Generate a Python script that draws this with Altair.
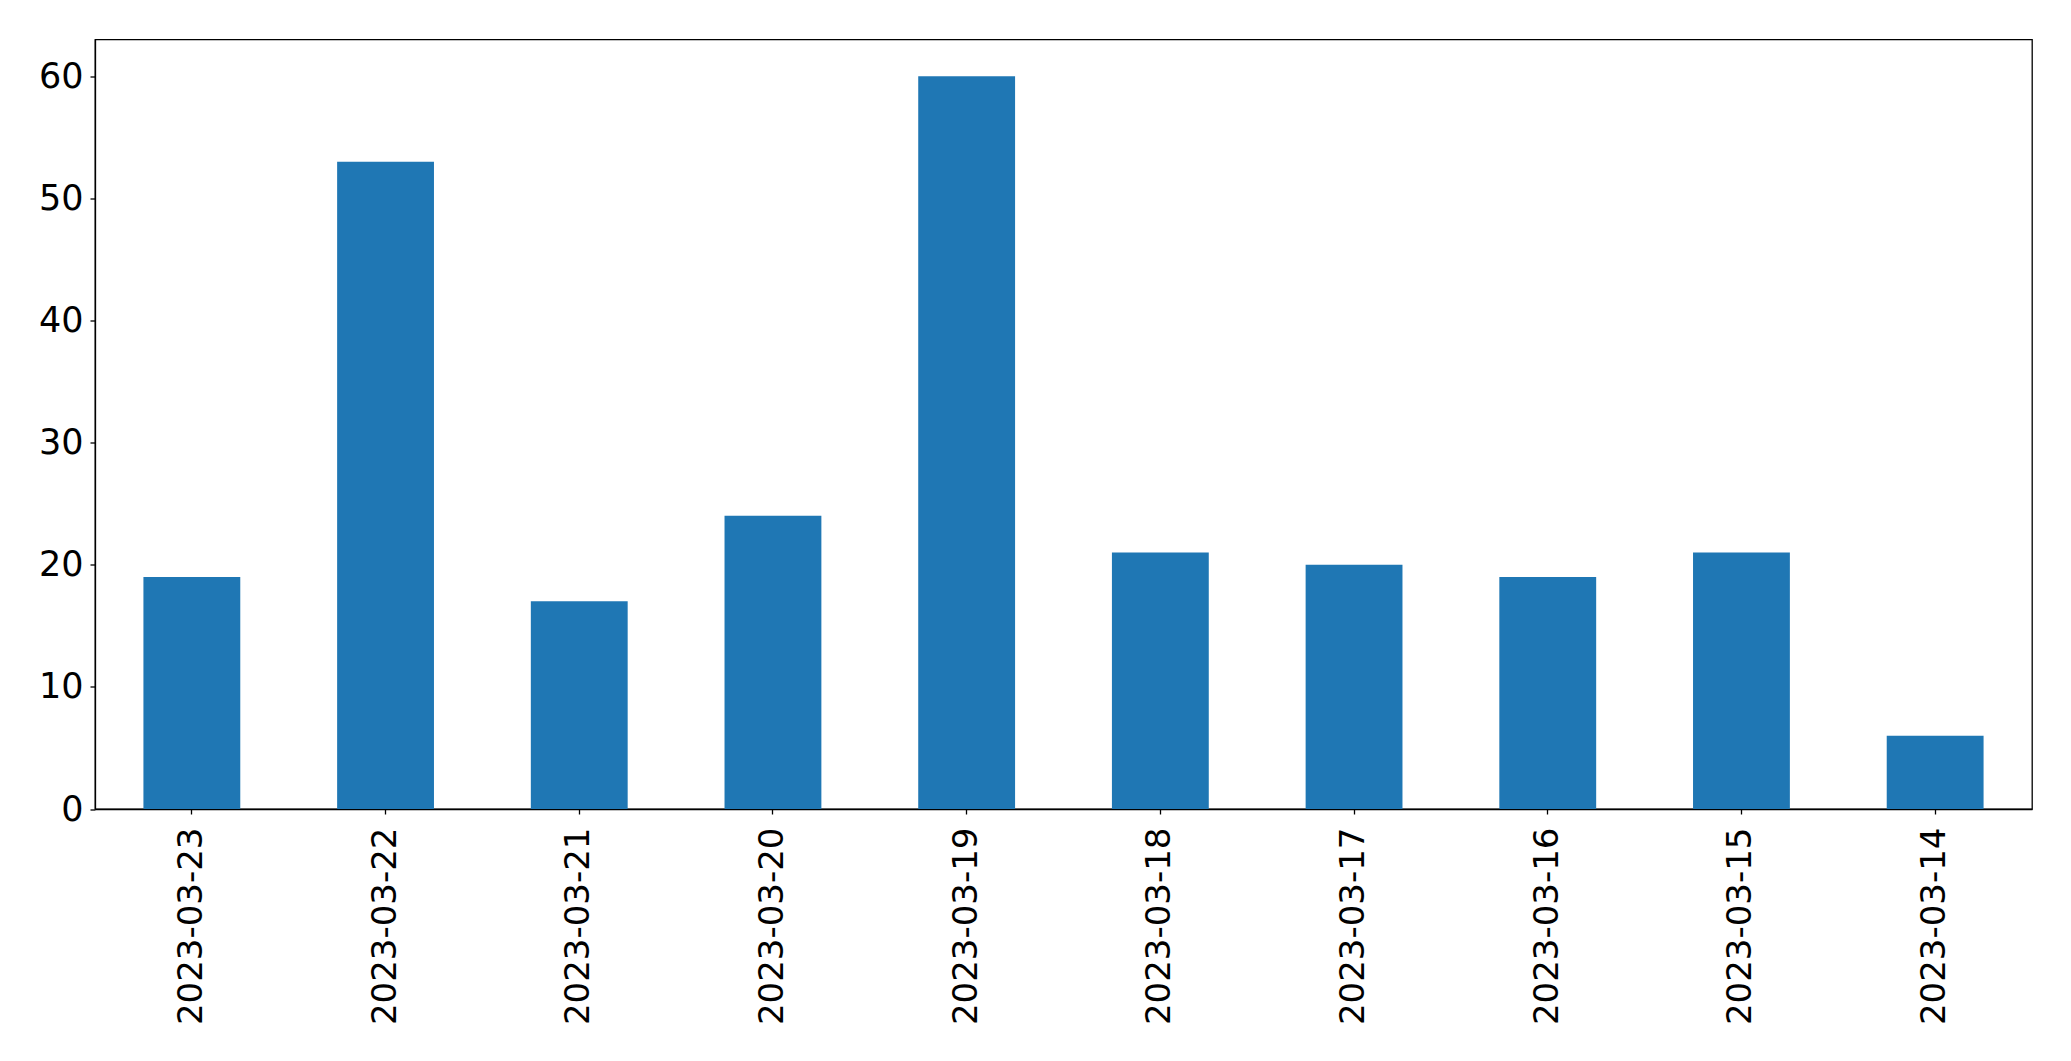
import altair as alt
import pandas as pd

dates = ["2023-03-23", "2023-03-22", "2023-03-21", "2023-03-20", "2023-03-19",
         "2023-03-18", "2023-03-17", "2023-03-16", "2023-03-15", "2023-03-14"]
counts = [19, 53, 17, 24, 60, 21, 20, 19, 21, 6]
y_ticks = [0, 10, 20, 30, 40, 50, 60]

df = pd.DataFrame({"date": dates, "count": counts})

FONT = "DejaVu Sans"

chart = alt.Chart(df).mark_bar(color="#1f77b4").encode(
    x=alt.X("date:N", sort=dates,
            scale=alt.Scale(paddingInner=0.5, paddingOuter=0.25),
            axis=alt.Axis(title=None, labelAngle=-90, labelFontSize=34, labelFont=FONT,
                          labelColor="black", tickColor="black", domainColor="black",
                          labelLimit=1000,
                          tickSize=5, labelPadding=13, domainWidth=1.3, tickWidth=1.3)),
    y=alt.Y("count:Q", scale=alt.Scale(domain=[0, 63], nice=False),
            axis=alt.Axis(title=None, values=y_ticks, labelFontSize=35, labelFont=FONT,
                          labelColor="black", tickColor="black", domainColor="black",
                          tickSize=5, labelPadding=7, grid=False, domainWidth=1.3, tickWidth=1.3)),
).properties(
    width=1937, height=769.5,
    autosize=alt.AutoSizeParams(type="none"),
    padding={"left": 87, "top": 31.5, "right": 20, "bottom": 240},
).configure_view(
    stroke="black", strokeWidth=1.3
)

chart.save("out.html", embed_options={"renderer": "svg", "actions": False})
